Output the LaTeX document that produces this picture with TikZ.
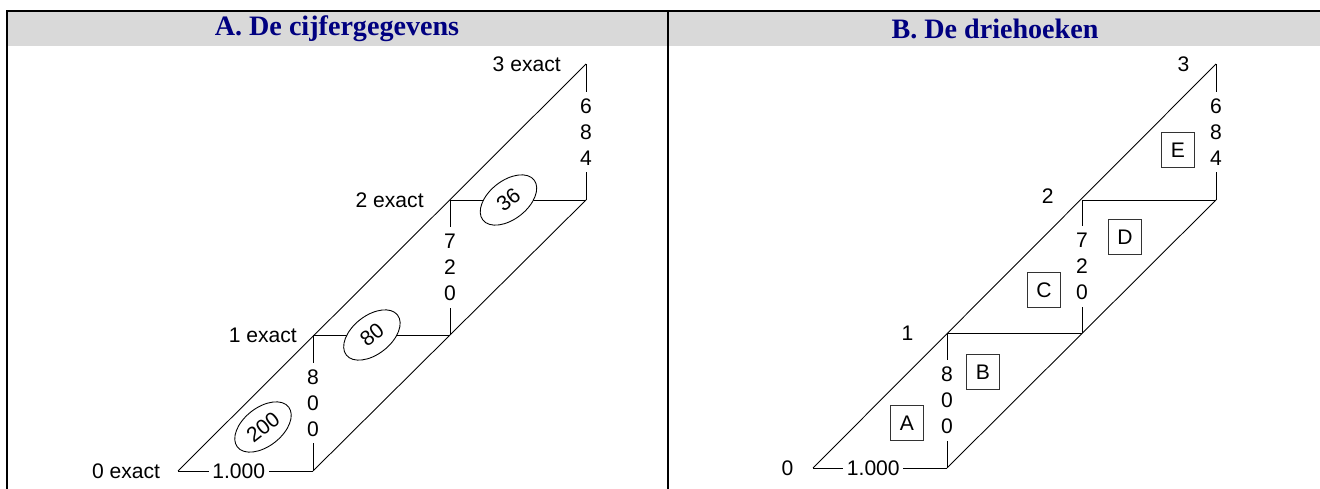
\documentclass[tikz,border=0pt]{standalone}
\usepackage{fontspec}
\setmainfont{Liberation Sans}
\newfontfamily\headfont{Liberation Serif}
\usetikzlibrary{shapes.geometric, positioning}
\definecolor{headgray}{RGB}{217,217,217}
\definecolor{headblue}{RGB}{0,0,128}

\begin{document}
\begin{tikzpicture}[
    x=0.02cm, y=-0.02cm,
    font=\fontsize{12}{14}\selectfont,
    edge/.style={draw=black, line width=0.5pt},
    rule/.style={draw=black, line width=1.1pt},
    head/.style={font=\headfont\bfseries\fontsize{16}{18}\selectfont, text=headblue},
    digits/.style={fill=white, align=center, inner xsep=1pt, inner ysep=4pt, font=\fontsize{12}{14.8}\selectfont},
    val/.style={fill=white, inner sep=2pt},
    oval/.style={ellipse, draw, line width=0.5pt, fill=white, rotate=38, minimum width=37pt, minimum height=22pt, inner sep=0.5pt},
    tag/.style={rectangle, draw=black!80, line width=0.5pt, fill=white, minimum width=19pt, minimum height=20pt, inner sep=0pt},
    lbl/.style={inner sep=0pt}
]
\useasboundingbox (0,0) rectangle (1320,489);

% table frame and header
\fill[headgray] (7,11) rectangle (1320,46);
\draw[rule] (1320,11) -- (7,11) -- (7,489);
\draw[rule] (668,11) -- (668,489);
\node[head] (titleA) at (337,29) {A. De cijfergegevens};
\node[head] (titleB) at (995,29) {B. De driehoeken};

% A. the figures
\coordinate (a0) at (178,471);
\coordinate (a1) at (313,335);
\coordinate (a2) at (450,200);
\coordinate (a3) at (586,64);
\coordinate (b0) at (313,471);
\coordinate (b1) at (450,335);
\coordinate (b2) at (586,200);

\draw[edge] (a0) -- (a3);
\draw[edge] (b0) -- (b2);
\draw[edge] (a0) -- node[val, pos=0.45] (sumA) {1.000} (b0);
\draw[edge] (a1) -- node[oval, pos=0.43] (ovA1) {80} (b1);
\draw[edge] (a2) -- node[oval, pos=0.43] (ovA2) {36} (b2);
\draw[edge] (a1) -- node[digits] (digA1) {8\\0\\0} (b0);
\draw[edge] (a2) -- node[digits] (digA2) {7\\2\\0} (b1);
\draw[edge] (a3) -- node[digits] (digA3) {6\\8\\4} (b2);
\node[oval] (ovA0) at (263,427) {200};

\node[lbl, left=10pt of a0] (lblA0) {0 exact};
\node[lbl, left=9pt of a1] (lblA1) {1 exact};
\node[lbl, left=14.8pt of a2] (lblA2) {2 exact};
\node[lbl, left=14.2pt of a3] (lblA3) {3 exact};

% B. the triangles
\coordinate (c0) at (813,468);
\coordinate (c1) at (947,333);
\coordinate (c2) at (1082,200);
\coordinate (c3) at (1216,64);
\coordinate (d0) at (947,468);
\coordinate (d1) at (1082,333);
\coordinate (d2) at (1216,200);

\draw[edge] (c0) -- (c3);
\draw[edge] (d0) -- (d2);
\draw[edge] (c0) -- node[val, pos=0.45] (sumB) {1.000} (d0);
\draw[edge] (c1) -- (d1);
\draw[edge] (c2) -- (d2);
\draw[edge] (c1) -- node[digits] (digB1) {8\\0\\0} (d0);
\draw[edge] (c2) -- node[digits] (digB2) {7\\2\\0} (d1);
\draw[edge] (c3) -- node[digits] (digB3) {6\\8\\4} (d2);

\node[tag] (triA) at (907,423) {A};
\node[tag] (triB) at (983,372) {B};
\node[tag] (triC) at (1044,290) {C};
\node[tag] (triD) at (1125,237) {D};
\node[tag] (triE) at (1178,150) {E};

\node[lbl, left=11pt of c0] (lblB0) {0};
\node[lbl, left=19pt of c1] (lblB1) {1};
\node[lbl, left=16pt of c2, yshift=2pt] (lblB2) {2};
\node[lbl, left=15pt of c3] (lblB3) {3};

\end{tikzpicture}
\end{document}
